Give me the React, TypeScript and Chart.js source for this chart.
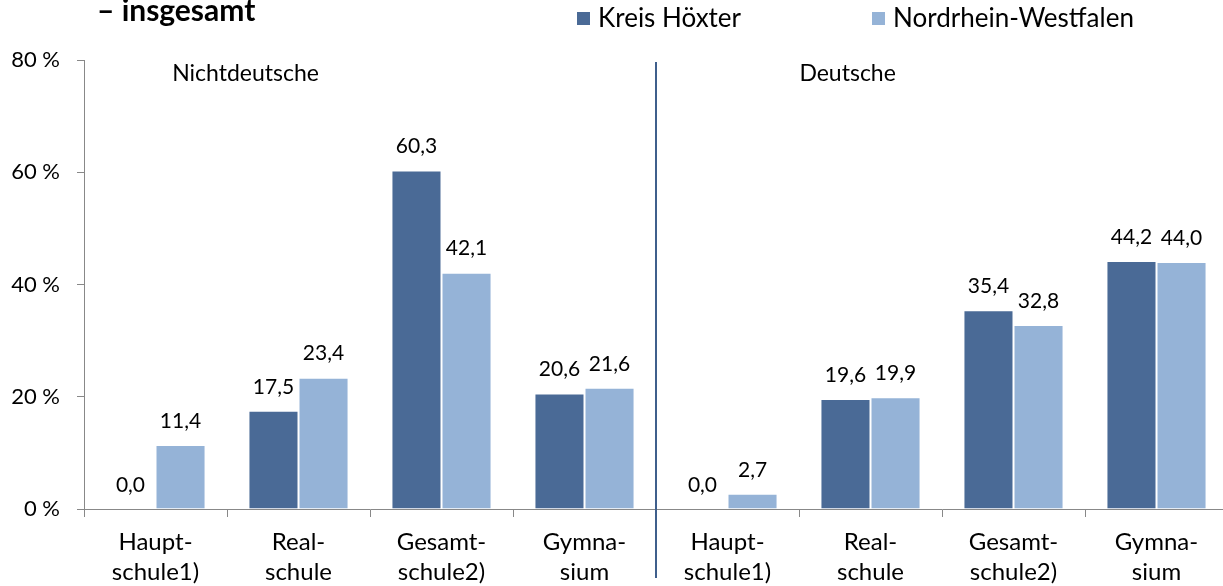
import React, { useEffect, useRef } from "react";
import { Chart, registerables } from "chart.js";

Chart.register(...registerables);

const categories: string[][] = [
  ["Haupt-", "schule1)"],
  ["Real-", "schule"],
  ["Gesamt-", "schule2)"],
  ["Gymna-", "sium"],
  ["Haupt-", "schule1)"],
  ["Real-", "schule"],
  ["Gesamt-", "schule2)"],
  ["Gymna-", "sium"],
];
const kreisHoexter: number[] = [0.0, 17.5, 60.3, 20.6, 0.0, 19.6, 35.4, 44.2];
const nrw: number[] = [11.4, 23.4, 42.1, 21.6, 2.7, 19.9, 32.8, 44.0];
const seriesNames: string[] = ["Kreis Höxter", "Nordrhein-Westfalen"];
const groupNames: string[] = ["Nichtdeutsche", "Deutsche"];
const titleText = "– insgesamt";

const DARK = "#4A6A96";
const LIGHT = "#95B3D7";
const AXIS = "#888888";
const FONT = "Lato";

const fmt = (v: number) => v.toFixed(1).replace(".", ",");

const overlayPlugin = {
  id: "overlay",
  afterDatasetsDraw(chart: any) {
    const ctx = chart.ctx;
    const xs = chart.scales.x;
    const area = chart.chartArea;
    ctx.save();
    // data labels
    ctx.font = `21px ${FONT}`;
    ctx.fillStyle = "#000";
    ctx.textAlign = "center";
    ctx.textBaseline = "middle";
    chart.data.datasets.forEach((ds: any, di: number) => {
      const meta = chart.getDatasetMeta(di);
      meta.data.forEach((bar: any, i: number) => {
        ctx.fillText(fmt(ds.data[i]), bar.x, bar.y - 24);
      });
    });
    // divider
    const divX = (xs.getPixelForValue(3) + xs.getPixelForValue(4)) / 2;
    ctx.strokeStyle = "#3F5F8C";
    ctx.lineWidth = 2;
    ctx.beginPath();
    ctx.moveTo(divX, area.top + 2);
    ctx.lineTo(divX, chart.height - 8);
    ctx.stroke();
    // group names
    ctx.font = `23px ${FONT}`;
    ctx.fillText(groupNames[0], xs.getPixelForValue(0.63), area.top + 14);
    ctx.fillText(groupNames[1], xs.getPixelForValue(4.84), area.top + 14);
    // title
    ctx.font = `bold 30px ${FONT}`;
    ctx.textAlign = "left";
    ctx.textBaseline = "alphabetic";
    ctx.fillText(titleText, 97, 21);
    // legend
    ctx.font = `26px ${FONT}`;
    ctx.textBaseline = "middle";
    const items = [
      { x: 577, color: DARK, label: seriesNames[0] },
      { x: 872, color: LIGHT, label: seriesNames[1] },
    ];
    items.forEach((it) => {
      ctx.fillStyle = it.color;
      ctx.fillRect(it.x, 12, 13, 13);
      ctx.fillStyle = "#000";
      ctx.fillText(it.label, it.x + 21, 19);
    });
    ctx.restore();
  },
};

export default function App() {
  const ref = useRef<HTMLCanvasElement | null>(null);
  useEffect(() => {
    if (!ref.current) return;
    const chart = new Chart(ref.current, {
      type: "bar",
      data: {
        labels: categories,
        datasets: [
          {
            label: seriesNames[0],
            data: kreisHoexter,
            backgroundColor: DARK,
            borderColor: "#FFFFFF",
            borderWidth: 1,
            barPercentage: 1,
            categoryPercentage: 0.7,
          },
          {
            label: seriesNames[1],
            data: nrw,
            backgroundColor: LIGHT,
            borderColor: "#FFFFFF",
            borderWidth: 1,
            barPercentage: 1,
            categoryPercentage: 0.7,
          },
        ],
      },
      options: {
        responsive: false,
        animation: false,
        layout: { padding: { top: 60, right: 4, left: 0, bottom: 0 } },
        plugins: {
          legend: { display: false },
          title: { display: false },
          tooltip: { enabled: false },
        },
        scales: {
          x: {
            grid: {
              offset: true,
              drawOnChartArea: false,
              drawTicks: true,
              tickLength: 8,
              color: AXIS,
            },
            border: { color: AXIS, width: 1 },
            ticks: {
              color: "#000",
              padding: 10,
              maxRotation: 0,
              autoSkip: false,
              font: { family: FONT, size: 24, lineHeight: 1.25 },
            },
            afterFit: (s: any) => {
              s.height = 77;
            },
          },
          y: {
            min: 0,
            max: 80,
            grid: {
              drawOnChartArea: false,
              drawTicks: true,
              tickLength: 7,
              color: AXIS,
            },
            border: { color: AXIS, width: 1 },
            ticks: {
              stepSize: 20,
              color: "#000",
              padding: 17,
              font: { family: FONT, size: 22 },
              callback: (v: any) => `${v} %`,
            },
            afterFit: (s: any) => {
              s.width = 84;
            },
          },
        },
      },
      plugins: [overlayPlugin],
    });
    return () => chart.destroy();
  }, []);
  return (
    <div
      style={{
        position: "fixed",
        left: 0,
        top: 0,
        width: 1223,
        height: 586,
        overflow: "hidden",
        background: "#fff",
      }}
    >
      <canvas ref={ref} width={1232} height={586} />
    </div>
  );
}
